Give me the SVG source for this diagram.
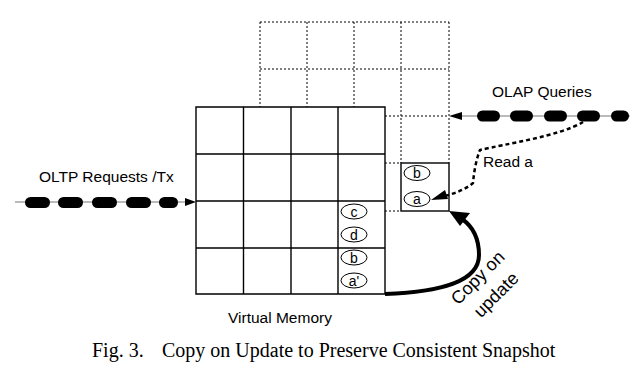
<svg xmlns="http://www.w3.org/2000/svg" width="640" height="374" viewBox="0 0 640 374">
  <defs>
    <style>
      .dot { fill: none; stroke: #000; stroke-width: 1; stroke-dasharray: 2 2; }
      .cell { fill: none; stroke: #000; stroke-width: 1.4; }
      .lbl { font-family: "Liberation Sans", Arial, sans-serif; font-size: 15.5px; fill: #000; }
      .big { font-family: "Liberation Sans", Arial, sans-serif; font-size: 18px; fill: #000; text-anchor: middle; }
      .item ellipse { fill: #fff; stroke: #000; stroke-width: 1; }
      .item text { font-family: "Liberation Sans", Arial, sans-serif; font-size: 14px; text-anchor: middle; fill: #000; }
      .cap { fill: #000; }
      .track { stroke: #777; stroke-width: 1.2; }
    </style>
  </defs>
  <rect width="640" height="374" fill="#fff"/>

  <!-- snapshot page grid (dotted), drawn behind virtual memory -->
  <g id="snapshot">
    <path class="dot" d="M260,22 H449 M260,69 H449 M385,116 H449 M385,163 H401 M385,211 H401
                         M260,22 V107 M307,22 V107 M354,22 V107 M401,22 V163 M449,22 V163"/>
    <rect class="cell" x="401" y="163" width="48" height="48"/>
  </g>

  <!-- virtual memory grid -->
  <g id="virtual-memory">
    <rect x="196" y="107" width="189" height="187" fill="#fff" stroke="none"/>
    <path class="cell" d="M196,107 H385 V294 H196 Z M243.5,107 V294 M291,107 V294 M338,107 V294
                          M196,154 H385 M196,201 H385 M196,248 H385"/>
    <text class="lbl" x="228" y="323">Virtual Memory</text>
  </g>

  <!-- tuples -->
  <g id="item-snap-b" class="item"><ellipse cx="417" cy="173" rx="13" ry="7.5"/><text x="417" y="178">b</text></g>
  <g id="item-snap-a" class="item"><ellipse cx="417" cy="199" rx="13" ry="7.5"/><text x="417" y="203.5">a</text></g>
  <g id="item-c" class="item"><ellipse cx="354" cy="211.5" rx="13" ry="7.5"/><text x="354" y="216.5">c</text></g>
  <g id="item-d" class="item"><ellipse cx="354" cy="234.5" rx="13" ry="7.5"/><text x="354" y="239.5">d</text></g>
  <g id="item-b" class="item"><ellipse cx="354" cy="257.5" rx="13" ry="7.5"/><text x="354" y="262.5">b</text></g>
  <g id="item-a2" class="item"><ellipse cx="354" cy="280.5" rx="13" ry="7.5"/><text x="354" y="285.5">a'</text></g>

  <!-- OLTP request stream -->
  <g id="oltp">
    <text class="lbl" x="39" y="182">OLTP Requests /Tx</text>
    <line class="track" x1="15" y1="202" x2="188" y2="202"/>
    <rect class="cap" x="25" y="197" width="25" height="11" rx="5.5"/>
    <rect class="cap" x="58" y="197" width="25" height="11" rx="5.5"/>
    <rect class="cap" x="92" y="197" width="25" height="11" rx="5.5"/>
    <rect class="cap" x="126" y="197" width="25" height="11" rx="5.5"/>
    <rect class="cap" x="159" y="197" width="19" height="11" rx="5.5"/>
    <polygon points="196,202 185,198 185,206" fill="#000"/>
  </g>

  <!-- OLAP query stream -->
  <g id="olap">
    <text class="lbl" x="492" y="97">OLAP Queries</text>
    <line class="track" x1="458" y1="116" x2="630" y2="116"/>
    <rect class="cap" x="477" y="110.5" width="23" height="11" rx="5.5"/>
    <rect class="cap" x="510" y="110.5" width="23" height="11" rx="5.5"/>
    <rect class="cap" x="544" y="110.5" width="23" height="11" rx="5.5"/>
    <rect class="cap" x="577" y="110.5" width="23" height="11" rx="5.5"/>
    <rect class="cap" x="611" y="110.5" width="18" height="11" rx="5.5"/>
    <polygon points="449,116 462,112 462,120" fill="#000"/>
  </g>

  <!-- connectors -->
  <g id="connectors">
    <path d="M583,122 C560,136 505,144 480,150 C476,160 474,172 473,183 C466,189 456,193 445,196"
          fill="none" stroke="#000" stroke-width="2.5" stroke-dasharray="4 3"/>
    <polygon points="431,200 445,190 448,199" fill="#000"/>
    <text class="lbl" x="483" y="167">Read a</text>

    <path d="M385,294 C440,292 479,282 479,255 C479,238 472,226 462,219"
          fill="none" stroke="#000" stroke-width="4"/>
    <polygon points="449,211 470,213 460,226" fill="#000"/>
    <g transform="translate(482,282) rotate(-45)">
      <text class="big" x="0" y="0">Copy on</text>
      <text class="big" x="1" y="25">update</text>
    </g>
  </g>

  <!-- caption -->
  <g id="caption" font-family="'Liberation Serif', 'Times New Roman', serif" font-size="20" fill="#000">
    <text x="92" y="357">Fig. 3.</text>
    <text x="162" y="357">Copy on Update to Preserve Consistent Snapshot</text>
  </g>
</svg>
